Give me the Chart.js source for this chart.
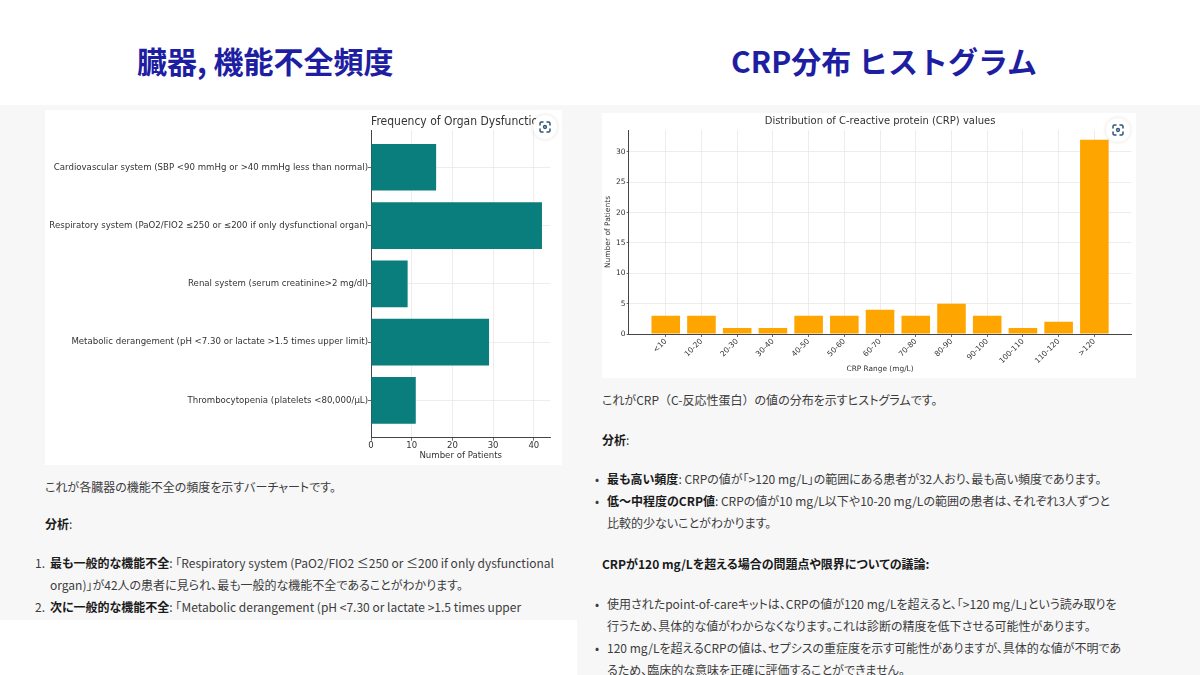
<!DOCTYPE html>
<html lang="ja">
<head>
<meta charset="utf-8">
<script src="https://cdn.jsdelivr.net/npm/chart.js@4"></script>
<style>
    body{margin:0;width:1200px;height:675px;position:relative;overflow:hidden;background:#fff;font-family:"Noto Sans CJK JP","Noto Sans",sans-serif;}
    .band{position:absolute;background:#f7f7f8;}
    .head{position:absolute;top:38px;font-size:30px;font-weight:700;color:#1e1ea2;white-space:nowrap;line-height:44px;}
    .panel{position:absolute;background:#fff;}
    .txt{position:absolute;font-size:12px;line-height:22px;color:#3c3c3c;white-space:nowrap;font-feature-settings:"palt";}
    .txt b{color:#1a1a1a;font-weight:700;}
    .txt .fw{font-feature-settings:normal;}
    .icon{position:absolute;width:24px;height:24px;border-radius:50%;background:#fff;box-shadow:0 0 4px rgba(0,0,0,0.12);}
</style>
</head>
<body>
<!-- gray page areas behind the two answers -->
<div class="band" style="left:0;top:105px;width:577px;height:515px;"></div>
<div class="band" style="left:577px;top:105px;width:623px;height:570px;"></div>

<div class="head" style="left:137px;">臓器, 機能不全頻度</div>
<div class="head" style="left:731px;">CRP分布 ヒストグラム</div>

<div class="panel" style="left:45px;top:110px;width:517px;height:355px;"><canvas id="organ_chart" width="517" height="355"></canvas></div>
<div class="panel" style="left:602px;top:113px;width:534px;height:265px;"><canvas id="crp_chart" width="534" height="265"></canvas></div>

<div class="icon" style="left:533px;top:115px;" id="icon_left"></div>
<div class="icon" style="left:1106px;top:118px;" id="icon_right"></div>

<!-- left answer text -->
<div class="txt" style="left:45px;top:476px;">これが各臓器の機能不全の頻度を示すバーチャートです。</div>
<div class="txt" style="left:45px;top:513px;"><b>分析</b>:</div>
<div class="txt" style="left:35px;top:552px;">1.</div>
<div class="txt" style="left:50px;top:552px;"><b>最も一般的な機能不全</b>: 「Respiratory system (PaO2/FIO2 ≤250 or ≤200 if only dysfunctional</div>
<div class="txt" style="left:50px;top:574px;">organ)」が42人の患者に見られ、最も一般的な機能不全であることがわかります。</div>
<div class="txt" style="left:35px;top:596px;">2.</div>
<div class="txt" style="left:50px;top:596px;"><b>次に一般的な機能不全</b>: 「Metabolic derangement (pH &lt;7.30 or lactate &gt;1.5 times upper</div>

<!-- right answer text -->
<div class="txt" style="left:602px;top:389px;">これがCRP<span class="fw">（</span>C-反応性蛋白<span class="fw">）</span>の値の分布を示すヒストグラムです。</div>
<div class="txt" style="left:602px;top:429px;"><b>分析</b>:</div>
<div class="txt" style="left:595px;top:468px;">•</div>
<div class="txt" style="left:607px;top:468px;"><b>最も高い頻度</b>: CRPの値が「&gt;120 mg/L」の範囲にある患者が32人おり、最も高い頻度であります。</div>
<div class="txt" style="left:595px;top:490px;">•</div>
<div class="txt" style="left:607px;top:490px;"><b>低〜中程度のCRP値</b>: CRPの値が10 mg/L以下や10-20 mg/Lの範囲の患者は、それぞれ3人ずつと</div>
<div class="txt" style="left:607px;top:512px;">比較的少ないことがわかります。</div>
<div class="txt" style="left:602px;top:553px;"><b>CRPが120 mg/Lを超える場合の問題点や限界についての議論:</b></div>
<div class="txt" style="left:595px;top:593px;">•</div>
<div class="txt" style="left:607px;top:593px;">使用されたpoint-of-careキットは、CRPの値が120 mg/Lを超えると、「&gt;120 mg/L」という読み取りを</div>
<div class="txt" style="left:607px;top:615px;">行うため、具体的な値がわからなくなります。これは診断の精度を低下させる可能性があります。</div>
<div class="txt" style="left:595px;top:637px;">•</div>
<div class="txt" style="left:607px;top:637px;">120 mg/Lを超えるCRPの値は、セプシスの重症度を示す可能性がありますが、具体的な値が不明であ</div>
<div class="txt" style="left:607px;top:659px;">るため、臨床的な意味を正確に評価することができません。</div>

<script>
//Organ dysfunction counts (left chart), listed top to bottom
const organLabels = [
    'Cardiovascular system (SBP <90 mmHg or >40 mmHg less than normal)',
    'Respiratory system (PaO2/FIO2 ≤250 or ≤200 if only dysfunctional organ)',
    'Renal system (serum creatinine>2 mg/dl)',
    'Metabolic derangement (pH <7.30 or lactate >1.5 times upper limit)',
    'Thrombocytopenia (platelets <80,000/µL)'
];
const organCounts = [16, 42, 9, 29, 11];

//CRP histogram (right chart)
const crpRanges = ['<10', '10-20', '20-30', '30-40', '40-50', '50-60', '60-70', '70-80', '80-90', '90-100', '100-110', '110-120', '>120'];
const crpCounts = [3, 3, 1, 1, 3, 3, 4, 3, 5, 3, 1, 2, 32];

const FONT = 'DejaVu Sans';
const gridColor = '#e8e8e8';
const axisColor = '#444';
const textColor = '#333';

//Keeps only the ticks that sit on a category
const keepCategoryTicks = (count) => (axis) => {
    axis.ticks = axis.ticks.filter(t => Number.isInteger(t.value) && t.value >= 0 && t.value < count);
};

const organChart = new Chart('organ_chart', {
    type: 'bar',
    data: {
        datasets: [{
            data: organCounts.map((v, i) => ({x: v, y: i})),
            backgroundColor: '#0a7d7d',
            barPercentage: 0.8,
            categoryPercentage: 1.0
        }]
    },
    options: {
        indexAxis: 'y',
        responsive: false,
        animation: false,
        layout: {padding: {top: 0, right: 11.5, bottom: 0, left: 0}},
        plugins: {
            legend: {display: false},
            tooltip: {enabled: false},
            title: {
                display: true,
                text: 'Frequency of Organ Dysfunctions',
                fullSize: false,
                color: textColor,
                font: {family: FONT, size: 12, weight: 'normal'},
                padding: {top: 4.8, bottom: 0.8}
            }
        },
        scales: {
            x: {
                type: 'linear',
                min: 0,
                max: 44.1,
                afterFit: (axis) => { axis.height = 27.3; },
                ticks: {stepSize: 10, includeBounds: false, padding: 0, color: textColor, font: {family: FONT, size: 8.5}},
                grid: {color: gridColor, lineWidth: 0.8, tickColor: axisColor, tickLength: 3},
                border: {color: axisColor, width: 1},
                title: {display: true, text: 'Number of Patients', color: textColor, font: {family: FONT, size: 8.6}, padding: {top: 0, bottom: 4}}
            },
            y: {
                type: 'linear',
                offset: false,
                reverse: true,
                min: -0.64,
                max: organLabels.length - 1 + 0.64,
                afterFit: (axis) => { axis.width = 326; },
                afterBuildTicks: keepCategoryTicks(organLabels.length),
                ticks: {
                    stepSize: 1,
                    includeBounds: false,
                    autoSkip: false,
                    padding: 0,
                    color: textColor,
                    font: {family: FONT, size: 8.6},
                    callback: (value) => organLabels[value] ?? ''
                },
                grid: {offset: false, color: gridColor, lineWidth: 0.8, tickColor: axisColor, tickLength: 3},
                border: {color: axisColor, width: 1}
            }
        }
    }
});

const crpChart = new Chart('crp_chart', {
    type: 'bar',
    data: {
        datasets: [{
            data: crpCounts.map((v, i) => ({x: i, y: v})),
            backgroundColor: '#ffa500',
            barPercentage: 0.8,
            categoryPercentage: 1.0
        }]
    },
    options: {
        responsive: false,
        animation: false,
        layout: {padding: {top: 0, right: 4.5, bottom: 0, left: 0}},
        plugins: {
            legend: {display: false},
            tooltip: {enabled: false},
            title: {
                display: true,
                text: 'Distribution of C-reactive protein (CRP) values',
                fullSize: false,
                color: textColor,
                font: {family: FONT, size: 10, weight: 'normal'},
                padding: {top: 2, bottom: 3}
            }
        },
        scales: {
            x: {
                type: 'linear',
                offset: false,
                min: -1.04,
                max: crpRanges.length - 1 + 1.04,
                afterFit: (axis) => { axis.height = 44; },
                afterBuildTicks: keepCategoryTicks(crpRanges.length),
                ticks: {
                    stepSize: 1,
                    includeBounds: false,
                    autoSkip: false,
                    minRotation: 45,
                    maxRotation: 45,
                    padding: 0,
                    color: textColor,
                    font: {family: FONT, size: 7.5},
                    callback: (value) => crpRanges[value] ?? ''
                },
                grid: {offset: false, color: gridColor, lineWidth: 0.8, tickColor: axisColor, tickLength: 3},
                border: {color: axisColor, width: 1},
                title: {display: true, text: 'CRP Range (mg/L)', color: textColor, font: {family: FONT, size: 7.4}, padding: {top: 0, bottom: 4}}
            },
            y: {
                min: 0,
                max: 33.6,
                afterFit: (axis) => { axis.width = 26.6; },
                ticks: {stepSize: 5, includeBounds: false, padding: 1, color: textColor, font: {family: FONT, size: 7.5}},
                grid: {color: gridColor, lineWidth: 0.8, tickColor: axisColor, tickLength: 2},
                border: {color: axisColor, width: 1},
                title: {display: true, text: 'Number of Patients', color: textColor, font: {family: FONT, size: 7.5}, padding: {top: 2, bottom: 0}}
            }
        }
    }
});

//Draws the little "scan" button shown on each image
const scanIcon = '<svg width="24" height="24" viewBox="0 0 24 24" fill="none" stroke="#2f5573" stroke-width="1.5" stroke-linecap="round">'
    + '<path d="M7 10V8.5A1.5 1.5 0 0 1 8.5 7H10M14 7h1.5A1.5 1.5 0 0 1 17 8.5V10M17 14v1.5a1.5 1.5 0 0 1-1.5 1.5H14M10 17H8.5A1.5 1.5 0 0 1 7 15.5V14"/>'
    + '<circle cx="12" cy="12" r="1.4"/></svg>';
document.getElementById('icon_left').innerHTML = scanIcon;
document.getElementById('icon_right').innerHTML = scanIcon;
</script>
</body>
</html>
